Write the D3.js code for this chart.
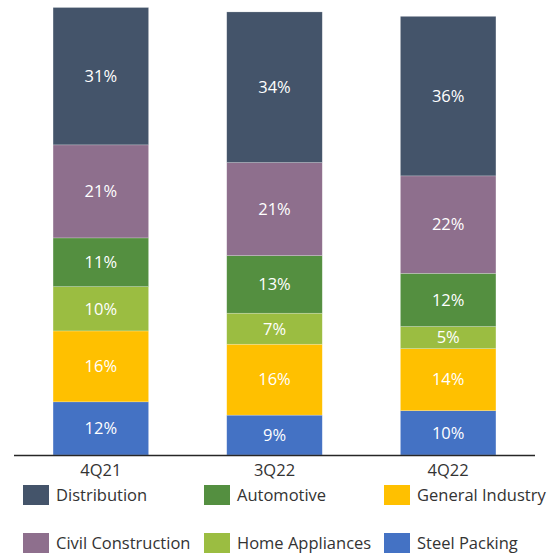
<!DOCTYPE html>
<html>
<head>
<meta charset="utf-8">
<script src="https://cdn.jsdelivr.net/npm/d3@7"></script>
<style>
  body { margin: 0; background: #fff; }
  text { font-family: "Open Sans", sans-serif; }
</style>
</head>
<body>
<div id="VizBox"></div>
<script>
// quarters on the x axis
var quarters = ["4Q21", "3Q22", "4Q22"];

// segments, bottom to top
var segments = ["Steel Packing", "General Industry", "Home Appliances", "Automotive", "Civil Construction", "Distribution"];

// share (%) per segment, one value per quarter
var steelPacking      = [12, 9, 10];
var generalIndustry   = [16, 16, 14];
var homeAppliances    = [10, 7, 5];
var automotive        = [11, 13, 12];
var civilConstruction = [21, 21, 22];
var distribution      = [31, 34, 36];

// legend order as it appears (row by row)
var legendOrder = ["Distribution", "Automotive", "General Industry",
                   "Civil Construction", "Home Appliances", "Steel Packing"];

var colors = {
  "Distribution": "#44546A",
  "Civil Construction": "#8E6F8D",
  "Automotive": "#548F40",
  "Home Appliances": "#9BBD41",
  "General Industry": "#FFC000",
  "Steel Packing": "#4472C4"
};

var seriesValues = {
  "Steel Packing": steelPacking,
  "General Industry": generalIndustry,
  "Home Appliances": homeAppliances,
  "Automotive": automotive,
  "Civil Construction": civilConstruction,
  "Distribution": distribution
};

// build table for d3.stack
var table = quarters.map(function(q, i) {
  var row = {quarter: q};
  segments.forEach(function(s) { row[s] = seriesValues[s][i]; });
  return row;
});

var width = 560, height = 554;
var svg = d3.select("#VizBox")
  .append("svg")
    .attr("width", width)
    .attr("height", height);

var x = d3.scaleBand()
  .domain(quarters)
  .range([14, 535])
  .paddingInner(0.45)
  .paddingOuter(0.225);

var y = d3.scaleLinear()
  .domain([0, 101])
  .range([455, 7.5]);

var stacked = d3.stack().keys(segments)(table);

var layer = svg.selectAll("g.layer")
  .data(stacked)
  .enter()
  .append("g")
    .attr("class", "layer")
    .attr("fill", function(d) { return colors[d.key]; });

layer.selectAll("rect")
  .data(function(d) { return d; })
  .enter()
  .append("rect")
    .attr("x", function(d) { return x(d.data.quarter); })
    .attr("y", function(d) { return y(d[1]); })
    .attr("width", x.bandwidth())
    .attr("height", function(d) { return y(d[0]) - y(d[1]); })
    .attr("stroke", "#ffffff")
    .attr("stroke-opacity", 0.35)
    .attr("stroke-width", 0.6);

// value labels
layer.selectAll("text")
  .data(function(d) { return d; })
  .enter()
  .append("text")
    .attr("x", function(d) { return x(d.data.quarter) + x.bandwidth() / 2; })
    .attr("y", function(d) { return (y(d[0]) + y(d[1])) / 2; })
    .attr("dy", "0.35em")
    .attr("text-anchor", "middle")
    .attr("fill", "#ffffff")
    .attr("font-size", "16.5px")
    .text(function(d) { return (d[1] - d[0]) + "%"; });

// x axis
var xAxis = svg.append("g")
  .attr("transform", "translate(0,455)")
  .call(d3.axisBottom(x).tickSize(0).tickPadding(9));
xAxis.select(".domain")
  .attr("d", "M14,0.5H535")
  .attr("stroke", "#262626")
  .attr("stroke-width", 1.3);
xAxis.selectAll("text")
  .attr("font-family", "Open Sans, sans-serif")
  .attr("font-size", "16.5px")
  .attr("fill", "#333333");

// legend
var legendX = [23, 204, 384];
var legendY = [495, 543];
var legend = svg.selectAll("g.legend")
  .data(legendOrder)
  .enter()
  .append("g")
    .attr("class", "legend")
    .attr("transform", function(d, i) {
      return "translate(" + legendX[i % 3] + "," + legendY[Math.floor(i / 3)] + ")";
    });

legend.append("rect")
  .attr("x", 0)
  .attr("y", -10)
  .attr("width", 26)
  .attr("height", 20)
  .attr("fill", function(d) { return colors[d]; });

legend.append("text")
  .attr("x", 33)
  .attr("y", 0)
  .attr("dy", "0.35em")
  .attr("font-size", "16.5px")
  .attr("fill", "#333333")
  .text(function(d) { return d; });
</script>
</body>
</html>
